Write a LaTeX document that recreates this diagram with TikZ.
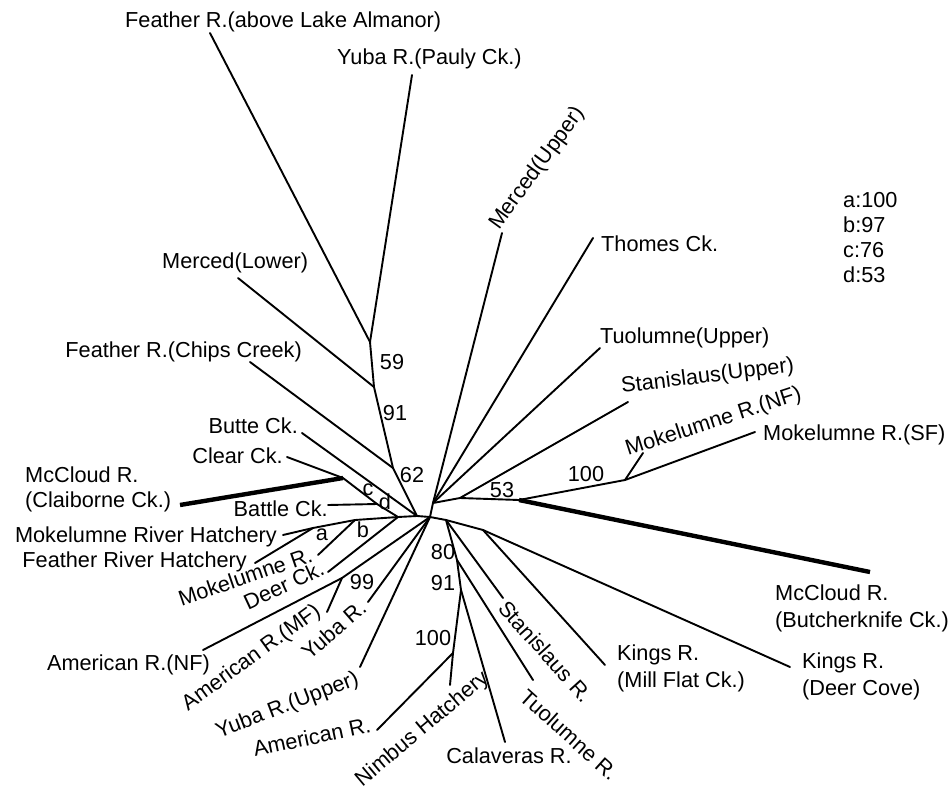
\documentclass[tikz,border=0pt]{standalone}
\usepackage{fontspec}
\setmainfont{Liberation Sans}
\begin{document}
\begin{tikzpicture}[x=1pt,y=-1pt,
  br/.style={line width=1.9pt, line cap=round, line join=round},
  thk/.style={line width=4.4pt, line cap=butt},
  lab/.style={inner sep=0pt, font=\fontsize{21.7}{26}\selectfont},
  bs/.style={inner sep=0pt, anchor=center, font=\fontsize{21.7}{26}\selectfont}]
\useasboundingbox (0,0) rectangle (950,789);
% internal nodes
\coordinate (R) at (430,517);
\coordinate (U) at (433,503);
\coordinate (L) at (417,516);
\coordinate (BB) at (398,517);
\coordinate (N62) at (393,468);
\coordinate (N91u) at (374,387);
\coordinate (N59) at (370,342);
\coordinate (Nc) at (343,478);
\coordinate (Nd) at (377,504);
\coordinate (Na) at (313,528);
\coordinate (Nb) at (355,520);
\coordinate (N53) at (519,500);
\coordinate (N100r) at (625,480);
\coordinate (S1) at (460,498);
\coordinate (S) at (446,520);
\coordinate (K) at (483,530);
\coordinate (N80) at (457,560);
\coordinate (N91l) at (461,590);
\coordinate (N100l) at (453,653);
\coordinate (N99) at (342,578);
% tips
\coordinate (tFeatherAbove) at (210,33);
\coordinate (tYubaPauly) at (412,75);
\coordinate (tMercedLower) at (238,278);
\coordinate (tChips) at (250,362);
\coordinate (tButte) at (302,433);
\coordinate (tClear) at (287,457);
\coordinate (tMcClai) at (180,505);
\coordinate (tBattle) at (328,505);
\coordinate (tMokHatch) at (283,535);
\coordinate (tFeaHatch) at (255,563);
\coordinate (tMokR) at (318,555);
\coordinate (tDeer) at (328,572);
\coordinate (tAmNF) at (203,650);
\coordinate (tAmMF) at (327,612);
\coordinate (tYubaR) at (368,602);
\coordinate (tYubaUp) at (360,667);
\coordinate (tAmR) at (377,730);
\coordinate (tNimbus) at (450,685);
\coordinate (tCalav) at (505,742);
\coordinate (tTuolR) at (533,680);
\coordinate (tStanR) at (503,598);
\coordinate (tKingsMill) at (605,665);
\coordinate (tKingsDeer) at (790,667);
\coordinate (tMcButch) at (870,572);
\coordinate (tMokSF) at (755,432);
\coordinate (tMokNF) at (643,453);
\coordinate (tStanUp) at (628,402);
\coordinate (tTuolUp) at (600,348);
\coordinate (tThomes) at (593,238);
\coordinate (tMercedUp) at (502,233);
% branches
\draw[br] (R) -- (U);
\draw[br] (R) -- (L);
\draw[br] (L) -- (BB);
\draw[br] (L) -- (N62);
\draw[br] (L) -- (tButte);
\draw[br] (N62) -- (N91u);
\draw[br] (N62) -- (tChips);
\draw[br] (N91u) -- (N59);
\draw[br] (N91u) -- (tMercedLower);
\draw[br] (N59) -- (tFeatherAbove);
\draw[br] (N59) -- (tYubaPauly);
\draw[br] (BB) -- (Nd);
\draw[br] (Nd) -- (Nc);
\draw[br] (Nd) -- (tBattle);
\draw[br] (Nc) -- (tClear);
\draw[thk] (Nc) -- (tMcClai);
\draw[br] (BB) -- (Nb);
\draw[br] (Nb) -- (Na);
\draw[br] (Nb) -- (tMokR);
\draw[br] (Na) -- (tMokHatch);
\draw[br] (Na) -- (tFeaHatch);
\draw[br] (BB) -- (tDeer);
\draw[br] (U) -- (tMercedUp);
\draw[br] (U) -- (tThomes);
\draw[br] (U) -- (tTuolUp);
\draw[br] (U) -- (S1);
\draw[br] (S1) -- (tStanUp);
\draw[br] (S1) -- (N53);
\draw[br] (N53) -- (N100r);
\draw[thk] (N53) -- (tMcButch);
\draw[br] (N100r) -- (tMokNF);
\draw[br] (N100r) -- (tMokSF);
\draw[br] (R) -- (N99);
\draw[br] (N99) -- (tAmNF);
\draw[br] (N99) -- (tAmMF);
\draw[br] (R) -- (tYubaR);
\draw[br] (R) -- (tYubaUp);
\draw[br] (R) -- (S);
\draw[br] (S) -- (N80);
\draw[br] (S) -- (tStanR);
\draw[br] (S) -- (K);
\draw[br] (K) -- (tKingsMill);
\draw[br] (K) -- (tKingsDeer);
\draw[br] (N80) -- (tTuolR);
\draw[br] (N80) -- (N91l);
\draw[br] (N91l) -- (tCalav);
\draw[br] (N91l) -- (N100l);
\draw[br] (N100l) -- (tAmR);
\draw[br] (N100l) -- (tNimbus);
% leaf labels
\node[lab, anchor=base west] (lFeatherAbove) at (125,28) {Feather R.(above Lake Almanor)};
\node[lab, anchor=base west] (lYubaPauly) at (337,65) {Yuba R.(Pauly Ck.)};
\node[lab, anchor=base west] (lMercedLower) at (162,268) {Merced(Lower)};
\node[lab, anchor=base east] (lChips) at (302,357) {Feather R.(Chips Creek)};
\node[lab, anchor=base east] (lButte) at (298,433) {Butte Ck.};
\node[lab, anchor=base east] (lClear) at (283,463) {Clear Ck.};
\node[lab, anchor=base west] (lMcClaiA) at (25,482) {McCloud R.};
\node[lab, anchor=base west] (lMcClaiB) at (25,507) {(Claiborne Ck.)};
\node[lab, anchor=base east] (lBattle) at (328,516) {Battle Ck.};
\node[lab, anchor=base east] (lMokHatch) at (277,542) {Mokelumne River Hatchery};
\node[lab, anchor=base east] (lFeaHatch) at (247,567) {Feather River Hatchery};
\node[lab, anchor=base east, rotate=19] (lMokR) at (314,561) {Mokelumne R.};
\node[lab, anchor=base east, rotate=25] (lDeer) at (326,574) {Deer Ck.};
\node[lab, anchor=base east] (lAmNF) at (210,670) {American R.(NF)};
\node[lab, anchor=base east, rotate=36] (lAmMF) at (322,614) {American R.(MF)};
\node[lab, anchor=base east, rotate=41] (lYubaR) at (368,610) {Yuba R.};
\node[lab, anchor=base east, rotate=21] (lYubaUp) at (360,684) {Yuba R.(Upper)};
\node[lab, anchor=base east, rotate=12] (lAmR) at (372,732) {American R.};
\node[lab, anchor=base east, rotate=40] (lNimbus) at (490,680) {Nimbus Hatchery};
\node[lab, anchor=base] (lCalav) at (509,763) {Calaveras R.};
\node[lab, anchor=base west, rotate=-42] (lTuolR) at (518,699) {Tuolumne R.};
\node[lab, anchor=base west, rotate=-48] (lStanR) at (497,609) {Stanislaus R.};
\node[lab, anchor=base west] (lKingsMillA) at (617,660) {Kings R.};
\node[lab, anchor=base west] (lKingsMillB) at (617,687) {(Mill Flat Ck.)};
\node[lab, anchor=base west] (lKingsDeerA) at (802,668) {Kings R.};
\node[lab, anchor=base west] (lKingsDeerB) at (802,695) {(Deer Cove)};
\node[lab, anchor=base west] (lMcButchA) at (775,600) {McCloud R.};
\node[lab, anchor=base west] (lMcButchB) at (775,627) {(Butcherknife Ck.)};
\node[lab, anchor=base west] (lMokSF) at (763,440) {Mokelumne R.(SF)};
\node[lab, anchor=base west, rotate=18] (lMokNF) at (628,456) {Mokelumne R.(NF)};
\node[lab, anchor=base west, rotate=7] (lStanUp) at (622,393) {Stanislaus(Upper)};
\node[lab, anchor=base west] (lTuolUp) at (600,343) {Tuolumne(Upper)};
\node[lab, anchor=base west] (lThomes) at (601,251) {Thomes Ck.};
\node[lab, anchor=base west, rotate=54] (lMercedUp) at (499,231) {Merced(Upper)};
% support values
\node[bs] (b59) at (392,362) {59};
\node[bs] (b91u) at (395,413) {91};
\node[bs] (b62) at (412,475) {62};
\node[bs] (bc) at (368,490) {c};
\node[bs] (bd) at (385,502) {d};
\node[bs] (ba) at (322,535) {a};
\node[bs] (bb) at (363,530) {b};
\node[bs] (b53) at (502,490) {53};
\node[bs] (b100r) at (586,474) {100};
\node[bs] (b80) at (443,552) {80};
\node[bs] (b91l) at (443,583) {91};
\node[bs] (b100l) at (433,638) {100};
\node[bs] (b99) at (362,582) {99};
% legend
\node[lab, anchor=base west] (legA) at (843,207) {a:100};
\node[lab, anchor=base west] (legB) at (843,232) {b:97};
\node[lab, anchor=base west] (legC) at (843,257) {c:76};
\node[lab, anchor=base west] (legD) at (843,282) {d:53};
\end{tikzpicture}
\end{document}
